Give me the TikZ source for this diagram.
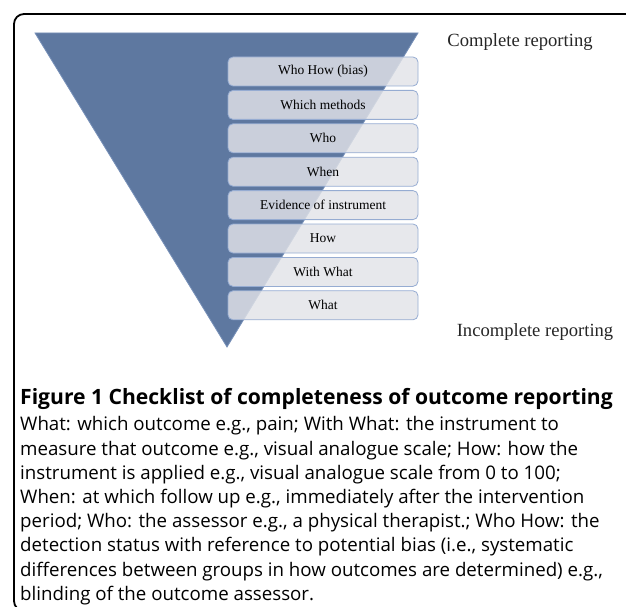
\documentclass[tikz,border=0pt]{standalone}
\usepackage{fontspec}
\usepackage{tikz}
\usetikzlibrary{positioning}
\setmainfont{Liberation Serif}
\newfontfamily\capfont{Open Sans}

\definecolor{funnel}{RGB}{94,120,160}
\definecolor{funnelrim}{RGB}{120,145,185}
\definecolor{boxfill}{RGB}{226,227,232}
\definecolor{boxline}{RGB}{150,172,210}

\tikzset{
  level/.style={draw=boxline,line width=0.8pt,fill=boxfill,fill opacity=0.82,
    text opacity=1,rounded corners=5pt,minimum width=190pt,minimum height=29pt,
    inner sep=0pt,outer sep=0pt,font=\fontsize{13.5}{15}\selectfont},
  side/.style={font=\fontsize{18.6}{21}\selectfont,text=black!85},
}

\begin{document}
\begin{tikzpicture}[x=1pt,y=-1pt,node distance=4.4pt]

    \useasboundingbox (0,0) rectangle (626,607);
    \clip (0,0) rectangle (626,607);

    % frame round the figure and its caption
    \draw[line width=1.8pt,rounded corners=10pt] (14,14) rectangle (660,611);

    % the funnel
    \filldraw[draw=funnelrim,line width=0.8pt,fill=funnel]
    (35,33) -- (418,33) -- (227,347) -- cycle;

    % checklist, from top to bottom
    \node[level] (whohow) at (323,71.5) {Who How (bias)};
    \node[level,below=of whohow] (methods) {Which methods};
    \node[level,below=of methods] (who) {Who};
    \node[level,below=of who] (when) {When};
    \node[level,below=of when] (evidence) {Evidence of instrument};
    \node[level,below=of evidence] (how) {How};
    \node[level,below=of how] (withwhat) {With What};
    \node[level,below=of withwhat] (what) {What};

    \node[side] (complete) at (520,42) {Complete reporting};
    \node[side] (incomplete) at (535,332) {Incomplete reporting};

    % caption
    \node[anchor=base west,inner sep=0pt,
      font=\capfont\bfseries\fontsize{21.1}{24}\selectfont] (title) at (20,404)
    {Figure 1 Checklist of completeness of outcome reporting};

    \node[anchor=north west,inner sep=0pt,align=left,
      font=\capfont\fontsize{18.7}{24.2}\selectfont] (legend) at (20,416.5)
    {What: which outcome e.g., pain; With What: the instrument to\\
     measure that outcome e.g., visual analogue scale; How: how the\\
     instrument is applied e.g., visual analogue scale from 0 to 100;\\
     When: at which follow up e.g., immediately after the intervention\\
     period; Who: the assessor e.g., a physical therapist.; Who How: the\\
     detection status with reference to potential bias (i.e., systematic\\
     differences between groups in how outcomes are determined) e.g.,\\
     blinding of the outcome assessor.};

  \end{tikzpicture}
\end{document}
